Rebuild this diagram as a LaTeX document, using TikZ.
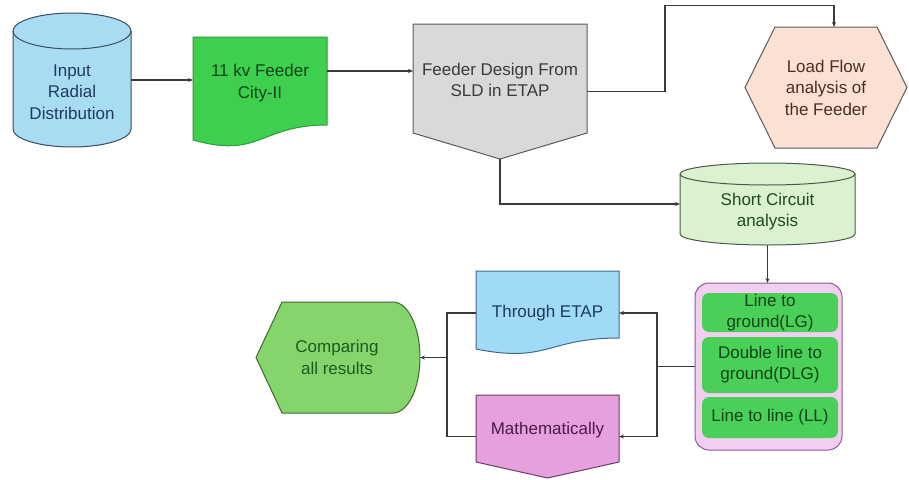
\documentclass[tikz,border=0pt]{standalone}
\usepackage{fontspec}
\setmainfont{Liberation Sans}
\usetikzlibrary{arrows.meta,calc}
\definecolor{cylblue}{HTML}{A7DCF3}
\definecolor{cyledge}{HTML}{3C4C5C}
\definecolor{cyltext}{HTML}{1F3B5C}
\definecolor{docgreen}{HTML}{3ECF4F}
\definecolor{docedge}{HTML}{2E9A3A}
\definecolor{greentext}{HTML}{0E4416}
\definecolor{grayfill}{HTML}{D9D9D9}
\definecolor{grayedge}{HTML}{5A5A5A}
\definecolor{graytext}{HTML}{3A3A3A}
\definecolor{peach}{HTML}{FBE1D4}
\definecolor{browntext}{HTML}{4A3020}
\definecolor{lightgreen}{HTML}{DAF2D0}
\definecolor{scedge}{HTML}{4A5A4A}
\definecolor{sctext}{HTML}{1F4A1F}
\definecolor{pinkfill}{HTML}{F2CEF0}
\definecolor{purpleedge}{HTML}{8A5A9A}
\definecolor{boxgreen}{HTML}{4ACF58}
\definecolor{lightblue}{HTML}{A0DAF6}
\definecolor{tedge}{HTML}{3F6A8A}
\definecolor{bluetext}{HTML}{1F3A5F}
\definecolor{violet}{HTML}{E6A0DE}
\definecolor{maedge}{HTML}{6A3A6A}
\definecolor{matext}{HTML}{4A1A4A}
\definecolor{cmpgreen}{HTML}{85D46C}
\definecolor{cmpedge}{HTML}{3F6A2F}
\definecolor{cmptext}{HTML}{1E5A1E}
\definecolor{linec}{HTML}{3A3A3A}
\begin{document}
\begin{tikzpicture}[x=1pt,y=-1pt,
  box/.style={rectangle, draw=none, inner sep=0pt, outer sep=0pt},
  txt/.style={inner sep=0pt, align=center, font=\fontsize{17}{21.5}\selectfont},
  shp/.style={line width=1pt},
  innerbox/.style={rectangle, rounded corners=7pt, fill=boxgreen, draw=none, minimum width=136pt, text=greentext, align=center, font=\fontsize{17}{21}\selectfont, inner sep=0pt},
  conn/.style={draw=linec, line width=1.2pt},
  arr/.style={conn, -{Stealth[length=5pt,width=4pt]}}]
\useasboundingbox (0,0) rectangle (909,479);
% ---------- shapes ----------
% input cylinder
\filldraw[shp, fill=cylblue, draw=cyledge] (13,31) -- (13,129) arc[start angle=180,end angle=360,x radius=59pt,y radius=18pt] -- (131,31) arc[start angle=0,end angle=180,x radius=59pt,y radius=18pt] -- cycle;
\draw[shp, cyledge] (131,31) arc[start angle=0,end angle=-180,x radius=59pt,y radius=18pt];
% 11 kv document
\filldraw[shp, fill=docgreen, draw=docedge] (193,37) -- (327,37) -- (327,125) .. controls (260,125) and (260,159) .. (193,140) -- cycle;
% feeder design pentagon
\filldraw[shp, fill=grayfill, draw=grayedge] (413,24) -- (587,24) -- (587,133) -- (500,159) -- (413,133) -- cycle;
% load flow hexagon
\filldraw[shp, fill=peach, draw=grayedge] (745,87.5) -- (775,27) -- (877,27) -- (907,87.5) -- (877,148) -- (775,148) -- cycle;
% short circuit cylinder
\filldraw[shp, fill=lightgreen, draw=scedge] (680,174) -- (680,234) arc[start angle=180,end angle=360,x radius=87.5pt,y radius=11pt] -- (855,174) arc[start angle=0,end angle=180,x radius=87.5pt,y radius=11pt] -- cycle;
\draw[shp, scedge] (855,174) arc[start angle=0,end angle=-180,x radius=87.5pt,y radius=11pt];
% container
\filldraw[shp, fill=pinkfill, draw=purpleedge, rounded corners=14pt] (695,283) rectangle (842,450);
% through ETAP document
\filldraw[shp, fill=lightblue, draw=tedge] (476,271) -- (619,271) -- (619,338) .. controls (547.5,338) and (547.5,363.5) .. (476,349) -- cycle;
% mathematically pentagon
\filldraw[shp, fill=violet, draw=maedge] (476,395) -- (619,395) -- (619,462) -- (547.5,478) -- (476,462) -- cycle;
% comparing display
\filldraw[shp, fill=cmpgreen, draw=cmpedge] (256,357.5) -- (282,302) -- (393,302) .. controls (408,302) and (420,327) .. (420,357.5) .. controls (420,388) and (408,413) .. (393,413) -- (282,413) -- cycle;
% ---------- anchor nodes ----------
\node[box, minimum width=118pt, minimum height=134pt] (cyl1) at (72,80) {};
\node[box, minimum width=134pt, minimum height=108pt] (doc1) at (260,91) {};
\node[box, minimum width=174pt, minimum height=135pt] (fd) at (500,91.5) {};
\node[box, minimum width=162pt, minimum height=121pt] (hex) at (826,87.5) {};
\node[box, minimum width=175pt, minimum height=82pt] (sc) at (767.5,204) {};
\node[box, minimum width=147pt, minimum height=167pt] (ct) at (768.5,366.5) {};
\node[box, minimum width=143pt, minimum height=84pt] (te) at (547.5,313) {};
\node[box, minimum width=143pt, minimum height=83pt] (ma) at (547.5,436.5) {};
\node[box, minimum width=164pt, minimum height=111pt] (cmp) at (338,357.5) {};
% ---------- texts ----------
\node[txt, text=cyltext] (cyl1t) at (72,92) {Input\\Radial\\Distribution};
\node[txt, text=greentext] (doc1t) at (260,83) {11 kv Feeder\\City-II};
\node[txt, text=graytext] (fdt) at (500,80) {Feeder Design From\\SLD in ETAP};
\node[txt, text=browntext] (hext) at (826,87.5) {Load Flow\\analysis of\\the Feeder};
\node[txt, text=sctext] (sct) at (767.5,211.5) {Short Circuit\\analysis};
\node[txt, text=bluetext] (tet) at (547.5,313) {Through ETAP};
\node[txt, text=matext] (mat) at (547.5,430) {Mathematically};
\node[txt, text=cmptext] (cmpt) at (337,357.5) {Comparing\\all results};
\node[innerbox, minimum height=39pt] (lg) at (770,312.5) {Line to\\ground(LG)};
\node[innerbox, minimum height=56pt] (dlg) at (770,365) {Double line to\\ground(DLG)};
\node[innerbox, minimum height=41pt] (ll) at (770,417.5) {Line to line (LL)};
% ---------- connectors ----------
\draw[arr] (cyl1.east) -- (cyl1.east -| doc1.west);
\draw[arr] ($(doc1.east)+(0,-20)$) coordinate (p1) -- (p1 -| fd.west);
\draw[arr] (fd.east) -- ++(78,0) -- ++(0,-86) -| ($(hex.north)+(8,0)$);
\draw[arr] (fd.south) |- (sc.west);
\draw[arr] (sc.south) -- (sc.south |- ct.north);
\draw[conn] (ct.west) -- ++(-38,0) coordinate (j1);
\draw[arr] (j1) |- (te.east);
\draw[arr] (j1) |- (ma.east);
\draw[conn] (te.west) -- ++(-29,0) coordinate (j2) |- (ma.west);
\draw[arr] (j2 |- cmp.east) -- (cmp.east);
\end{tikzpicture}
\end{document}
